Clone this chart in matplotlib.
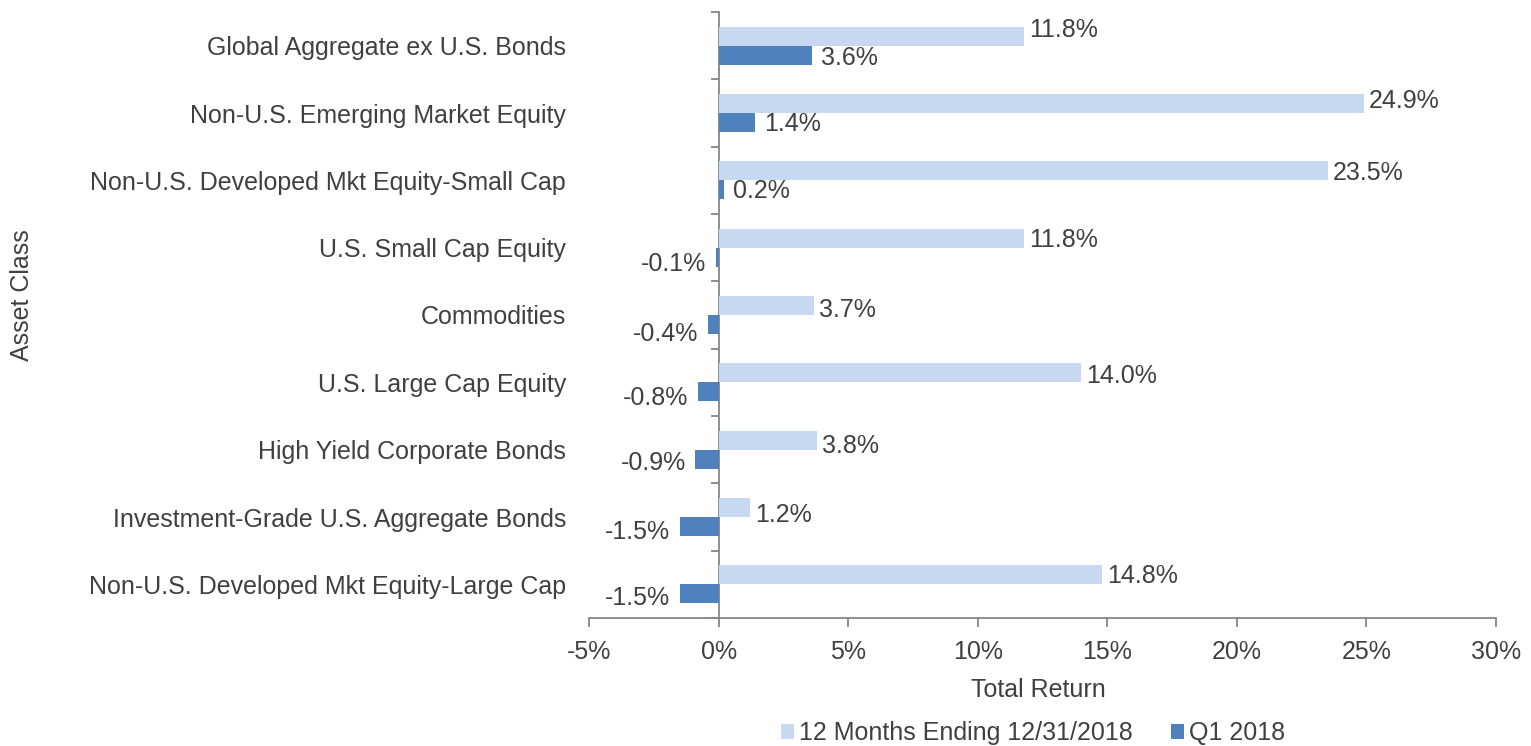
import matplotlib
matplotlib.use("Agg")
import matplotlib.pyplot as plt
import numpy as np

plt.rcParams['font.family'] = ['Liberation Sans', 'DejaVu Sans']

categories = [
    "Global Aggregate ex U.S. Bonds",
    "Non-U.S. Emerging Market Equity",
    "Non-U.S. Developed Mkt Equity-Small Cap",
    "U.S. Small Cap Equity",
    "Commodities",
    "U.S. Large Cap Equity",
    "High Yield Corporate Bonds",
    "Investment-Grade U.S. Aggregate Bonds",
    "Non-U.S. Developed Mkt Equity-Large Cap",
]
twelve_months = [11.8, 24.9, 23.5, 11.8, 3.7, 14.0, 3.8, 1.2, 14.8]
q1_2018 = [3.6, 1.4, 0.2, -0.1, -0.4, -0.8, -0.9, -1.5, -1.5]
xticks = [-5, 0, 5, 10, 15, 20, 25, 30]

# vertical nudges of the data labels (pixels, + is down), as placed in the original
light_dy = [-6, -3, 2, 2, 4, 3, 6, 7, 1]
dark_dy = [2.5, 1.5, 1, 6.5, 10, 6, 4, 5.5, 4.5]

light = '#C6D9F1'
dark = '#4F81BD'
txt = '#404040'
grey = '#868686'
fs = 18

fig = plt.figure(figsize=(15.31, 7.46), dpi=100)
ax = fig.add_axes([589 / 1531, 1 - 618 / 746, (1496 - 589) / 1531, (618 - 12) / 746])

y = np.arange(len(categories))
h = 0.28
b1 = ax.barh(y - h / 2, twelve_months, height=h, color=light, label='12 Months Ending 12/31/2018')
b2 = ax.barh(y + h / 2, q1_2018, height=h, color=dark, label='Q1 2018')

px = 0.72  # points per pixel at 100 dpi
for bars, vals, dys, off in [(b1, twelve_months, light_dy, 5), (b2, q1_2018, dark_dy, 9.5)]:
    for bar, v, dy in zip(bars, vals, dys):
        yc = bar.get_y() + bar.get_height() / 2
        sgn = 1 if v >= 0 else -1
        ax.annotate('{:.1f}%'.format(v), (v, yc), xytext=(sgn * off * px, -dy * px),
                    textcoords='offset points', ha='left' if v >= 0 else 'right',
                    va='center', fontsize=fs, color=txt)

ax.set_xlim(-5, 30)
ax.set_ylim(len(categories) - 0.5, -0.5)
ax.set_xticks(xticks)
ax.set_xticklabels(['{:d}%'.format(t) for t in xticks])
ax.set_yticks(y)
ax.set_yticklabels(categories)

for s in ['top', 'right', 'left']:
    ax.spines[s].set_visible(False)
ax.spines['bottom'].set_color(grey)
ax.spines['bottom'].set_linewidth(1.3)
ax.tick_params(axis='x', length=6.5, width=1.3, color=grey, labelsize=fs, labelcolor=txt, pad=9)
ax.tick_params(axis='y', length=0, labelsize=fs, labelcolor=txt, pad=16.5)

# zero line with category boundary ticks
sec = ax.secondary_yaxis(5 / 35)
sec.set_yticks(np.arange(len(categories) + 1) - 0.5)
sec.set_yticklabels([])
sec.spines['left'].set_color(grey)
sec.spines['left'].set_linewidth(1.3)
sec.tick_params(axis='y', length=6, width=1.3, color=grey, direction='out')

fig.text(1038 / 1531, 1 - 690 / 746, 'Total Return', ha='center', va='center', fontsize=fs, color=txt)
fig.text(22 / 1531, 1 - 295 / 746, 'Asset Class', rotation=90, ha='center', va='center',
         fontsize=fs, color=txt)

fig.legend(handles=[b1, b2], loc='center', bbox_to_anchor=(1033 / 1531, 1 - 733 / 746), ncol=2,
           frameon=False, fontsize=fs, handlelength=0.55, handleheight=0.55, handletextpad=0.2,
           columnspacing=1.5, labelcolor=txt, borderpad=0)

fig.savefig('out.png', dpi=100)
